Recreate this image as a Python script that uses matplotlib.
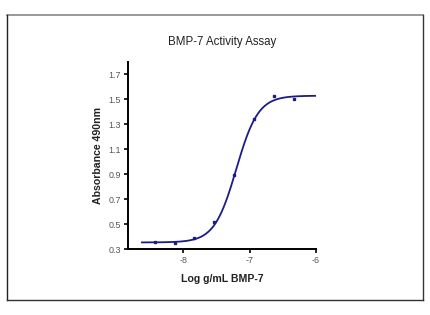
import numpy as np
import matplotlib
matplotlib.use("Agg")
import matplotlib.pyplot as plt
from matplotlib.lines import Line2D

plt.rcParams['font.family'] = ['Liberation Sans', 'DejaVu Sans']

# Data
log_conc = [-8.43, -8.13, -7.83, -7.53, -7.23, -6.93, -6.63, -6.33]
absorbance = [0.355, 0.350, 0.388, 0.520, 0.895, 1.345, 1.530, 1.500]

# Fitted 4-parameter logistic curve parameters (read from the drawn fit)
fit_bottom = 0.355
fit_top = 1.530
fit_logec50 = -7.20
fit_hill = 2.63
fit_range = (-8.62, -6.0)

x_ticks = [-8, -7, -6]
y_ticks = [0.3, 0.5, 0.7, 0.9, 1.1, 1.3, 1.5, 1.7]

W, H = 431, 315
fig = plt.figure(figsize=(W / 100, H / 100), dpi=100)

# outer frame
fx0, fx1 = 7 / W, 423 / W
fy0, fy1 = 1 - 300 / H, 1 - 15 / H
fig.add_artist(Line2D([fx0, fx1], [fy1, fy1], transform=fig.transFigure, color='#888888', lw=1.2))
fig.add_artist(Line2D([fx0, fx0], [fy0, fy1], transform=fig.transFigure, color='#222222', lw=1.0))
fig.add_artist(Line2D([fx0, fx1], [fy0, fy0], transform=fig.transFigure, color='#333333', lw=1.0))
fig.add_artist(Line2D([fx1, fx1], [fy0, fy1], transform=fig.transFigure, color='#333333', lw=1.0))

ax = fig.add_axes([128 / W, 1 - 249.3 / H, (316 - 128) / W, (249.3 - 62) / H])

xs = np.linspace(fit_range[0], fit_range[1], 300)
ys = fit_bottom + (fit_top - fit_bottom) / (1 + 10 ** ((fit_logec50 - xs) * fit_hill))
ax.plot(xs, ys, color='#1c1c86', lw=1.3, zorder=2)
ax.plot(log_conc, absorbance, 's', color='#1c1c86', ms=2.1, zorder=3)

ax.set_xlim(-8.83, -6.0)
ax.set_ylim(0.3, 1.8)
ax.set_xticks(x_ticks)
ax.set_xticklabels([str(t) for t in x_ticks])
ax.set_yticks(y_ticks)
ax.set_yticklabels([f"{t:.1f}" for t in y_ticks])

for s in ['top', 'right']:
    ax.spines[s].set_visible(False)
for s in ['left', 'bottom']:
    ax.spines[s].set_linewidth(1.4)
    ax.spines[s].set_color('black')
ax.tick_params(axis='both', direction='out', length=3, width=1.2, labelsize=6.4,
               labelcolor='#555555', pad=2)

ax.set_xlabel('Log g/mL BMP-7', fontsize=7.6, fontweight='bold', color='#222222', labelpad=6)
ax.set_ylabel('Absorbance 490nm', fontsize=7.6, fontweight='bold', color='#222222', labelpad=4)
fig.text(222 / W, 1 - 42 / H, 'BMP-7 Activity Assay', ha='center', va='center',
         fontsize=8.3, color='#222222')

fig.savefig('out.png', dpi=100)
